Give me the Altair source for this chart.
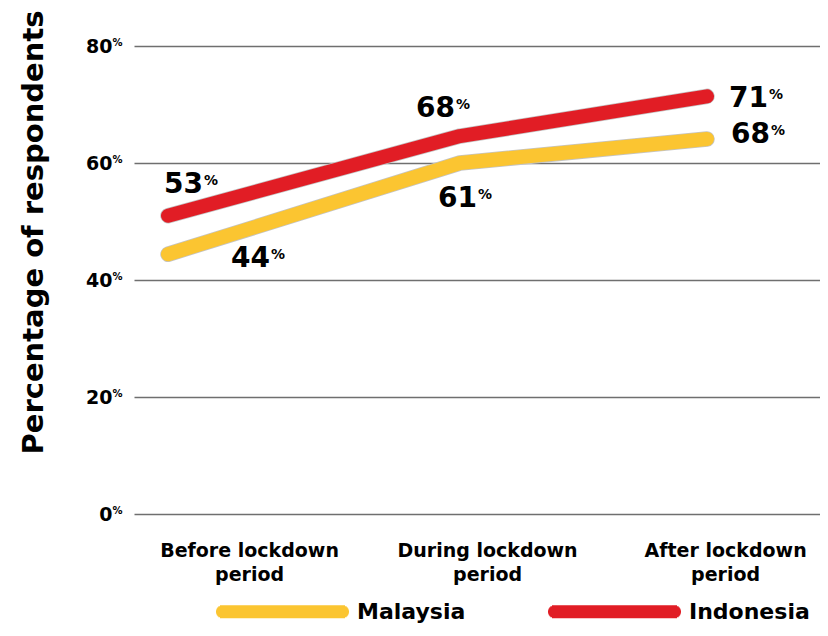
import math
import altair as alt
import pandas as pd

# ---- data ----
periods = ["Before lockdown period", "During lockdown period", "After lockdown period"]
series_names = ["Malaysia", "Indonesia"]
malaysia_line = [44.4, 60.0, 64.1]
indonesia_line = [51.0, 64.6, 71.4]
malaysia_labels = [44, 61, 68]
indonesia_labels = [53, 68, 71]
y_ticks = [0, 20, 40, 60, 80]
colors = ["#FBC531", "#E11D25"]

FONT = "DejaVu Sans"

rows = []
for s, vals, labs in [("Malaysia", malaysia_line, malaysia_labels),
                      ("Indonesia", indonesia_line, indonesia_labels)]:
    for i, p in enumerate(periods):
        rows.append({"period": p, "idx": i, "series": s, "value": vals[i], "label": labs[i]})
df = pd.DataFrame(rows)
ticks_df = pd.DataFrame({"value": y_ticks})

# label placement (pixel offsets from each point) - styling only
label_offsets = {
    ("Indonesia", 0): (35, -23),
    ("Malaysia", 0): (102, 13),
    ("Indonesia", 1): (-5, -19),
    ("Malaysia", 1): (17, 44),
    ("Indonesia", 2): (61, 11),
    ("Malaysia", 2): (63, 4),
}

y_enc = alt.Y(
    "value:Q",
    scale=alt.Scale(domain=[0, 80], nice=False, zero=True),
    axis=alt.Axis(
        values=y_ticks, grid=True, gridColor="#6f6f6f", gridWidth=1.5,
        domain=False, ticks=False, tickSize=0,
        labelExpr="datum.value + ''", labelFont=FONT, labelFontSize=19,
        labelFontWeight="bold", labelColor="black", labelPadding=22,
        labelBaseline="alphabetic", labelOffset=6,
        title="Percentage of respondents", titleFont=FONT, titleFontSize=29,
        titleFontWeight="bold", titleColor="black", titleAngle=270,
        titleX=-92, titleY=186, titleAlign="center", titleBaseline="alphabetic",
    ),
)

x_idx = alt.X("idx:Q", scale=alt.Scale(domain=[0, 1, 2], range=[34, 326, 573], nice=False, zero=False), axis=None)

# rounded bar legend symbol, built from thin horizontal strokes (unit box -1..1)
SYM_HALF = 66.5      # px, half of the symbol's total length
CAP_R = 6.5          # px, radius of the rounded ends
parts = []
for yy in range(-6, 7):
    half = (SYM_HALF - CAP_R) + math.sqrt(max(CAP_R ** 2 - yy ** 2, 0.0))
    parts.append(f"M{-half / SYM_HALF:.4f},{yy / SYM_HALF:.4f}L{half / SYM_HALF:.4f},{yy / SYM_HALF:.4f}")
LEG_PATH = "".join(parts)

base = alt.Chart(df)

x_axis_layer = base.mark_point(opacity=0).encode(
    x=alt.X(
        "period:N", sort=periods,
        scale=alt.Scale(type="point", padding=0.441, align=0.548),
        axis=alt.Axis(
            orient="bottom", title=None, labelAngle=0, domain=False, ticks=False, tickSize=0,
            grid=False, labelFont=FONT, labelFontSize=19, labelFontWeight="bold",
            labelColor="black", labelBaseline="top", labelPadding=27, labelLineHeight=24,
            labelLimit=400,
            labelExpr="[replace(datum.label, ' period', ''), 'period']",
        ),
    ),
    y=y_enc,
)

outline = base.mark_line(strokeWidth=15.5, strokeCap="round", strokeJoin="round", color="#c4c4c4").encode(
    x=x_idx, y=y_enc, detail="series:N", order="idx:Q"
)

lines = base.mark_line(strokeWidth=14, strokeCap="round", strokeJoin="round").encode(
    x=x_idx, y=y_enc, order="idx:Q",
    color=alt.Color(
        "series:N",
        scale=alt.Scale(domain=series_names, range=colors),
        legend=alt.Legend(
            orient="none", legendX=81, legendY=498, direction="horizontal", title=None,
            symbolType=LEG_PATH, symbolSize=(2 * SYM_HALF) ** 2, symbolStrokeWidth=1.2,
            symbolOpacity=1,
            labelFont=FONT, labelFontSize=22, labelFontWeight="bold", labelColor="black",
            labelOffset=7, columnPadding=79, padding=0,
        ),
    ),
)

pct_ticks = alt.Chart(ticks_df).mark_text(
    align="left", baseline="alphabetic", font=FONT, fontSize=10, fontWeight="bold",
    color="black", dy=0,
).encode(x=alt.value(-21.5), y=y_enc, text=alt.value("%"))

label_layers = []
for i, r in df.iterrows():
    dx, dy = label_offsets[(r["series"], r["idx"])]
    one = alt.Chart(df.iloc[[i]])
    label_layers.append(
        one.mark_text(align="right", baseline="alphabetic", dx=dx, dy=dy, font=FONT,
                      fontSize=28, fontWeight="bold", color="black").encode(
            x=x_idx, y=y_enc, text="label:N")
    )
    label_layers.append(
        one.mark_text(align="left", baseline="alphabetic", dx=dx + 1, dy=dy - 8, font=FONT,
                      fontSize=14, fontWeight="bold", color="black").encode(
            x=x_idx, y=y_enc, text=alt.value("%"))
    )

chart = alt.layer(x_axis_layer, outline, lines, pct_ticks, *label_layers).resolve_scale(
    x="independent"
).properties(
    width=686, height=468,
    autosize=alt.AutoSizeParams(type="none"),
    padding={"left": 126, "top": 38, "right": 0, "bottom": 110},
    background="white",
).configure_view(stroke=None)

chart.save("out.html", embed_options={"renderer": "svg", "actions": False})
